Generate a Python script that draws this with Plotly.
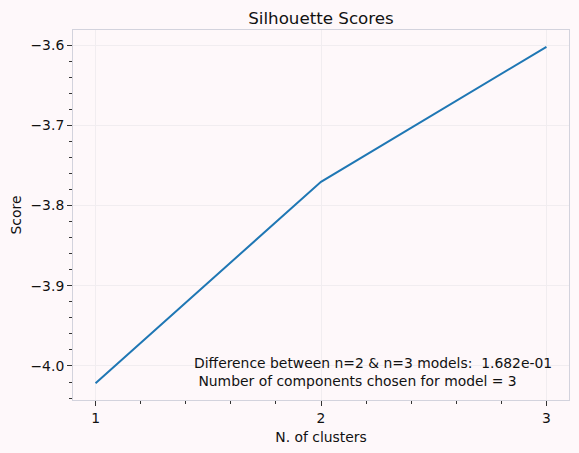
import plotly.graph_objects as go

n_clusters = [1, 2, 3]
scores = [-4.0214, -3.7705, -3.6023]
x_ticks = [1, 2, 3]
y_ticks = [-4.0, -3.9, -3.8, -3.7, -3.6]
y_tick_text = ["\u22124.0", "\u22123.9", "\u22123.8", "\u22123.7", "\u22123.6"]
annotation_text = ("Difference between n=2 & n=3 models:  1.682e-01<br>"
                   "&nbsp;Number of components chosen for model = 3")

bg = "#fef8fa"
font = "DejaVu Sans"
fs = 13.9

fig = go.Figure()
fig.add_trace(go.Scatter(x=n_clusters, y=scores, mode="lines",
                         line=dict(color="#1f77b4", width=2), showlegend=False))

fig.add_annotation(x=1.43, y=-4.0072, xref="x", yref="y", text=annotation_text,
                   showarrow=False, xanchor="left", yanchor="middle", align="left",
                   font=dict(family=font, size=fs, color="#111111"))

fig.update_layout(
    width=579, height=453,
    margin=dict(l=73, r=10, t=30, b=53),
    paper_bgcolor=bg, plot_bgcolor=bg,
    title=dict(text="Silhouette Scores", x=0.5, xref="paper", y=1, yref="paper",
               yanchor="bottom", pad=dict(b=6),
               font=dict(family=font, size=16.7, color="#111111")),
    font=dict(family=font, size=fs, color="#111111"),
)
fig.update_xaxes(range=[0.9, 3.1], tickvals=x_ticks, ticks="outside", ticklen=5,
                 tickcolor="#333333", showline=True, linecolor="#d3d3dd", mirror=True,
                 showgrid=True, gridcolor="#f1edf0", zeroline=False,
                 tickfont=dict(size=fs),
                 minor=dict(dtick=0.2, tick0=1, ticks="outside", ticklen=3,
                            tickcolor="#333333", showgrid=False),
                 title=dict(text="N. of clusters", standoff=7,
                            font=dict(family=font, size=fs)))
fig.update_yaxes(range=[-4.0424, -3.5813], tickvals=y_ticks, ticktext=y_tick_text,
                 ticks="outside", ticklen=5, tickcolor="#333333",
                 showline=True, linecolor="#d3d3dd", mirror=True,
                 showgrid=True, gridcolor="#f1edf0", zeroline=False,
                 tickfont=dict(size=fs),
                 minor=dict(dtick=0.02, tick0=-4.0, ticks="outside", ticklen=3,
                            tickcolor="#333333", showgrid=False),
                 title=dict(text="Score", standoff=5,
                            font=dict(family=font, size=fs)))

fig.write_html("out.html")
